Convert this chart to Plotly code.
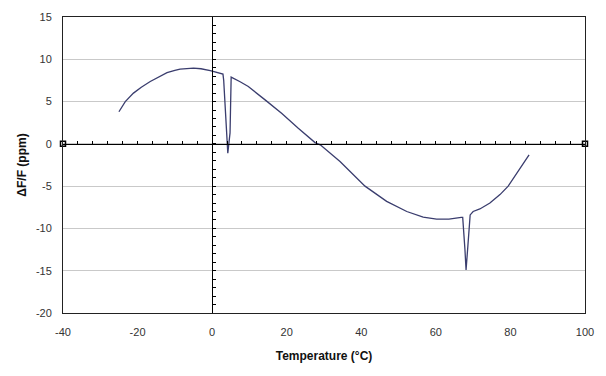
import plotly.graph_objects as go

# Data
temperature_c = [-25.0, -23.3, -21.1, -19.0, -16.6, -14.0, -12.1, -10.0, -8.6, -5.0, -3.0, -0.5,
                 1.7, 2.9, 3.1, 3.6, 3.9, 4.2, 4.8, 5.1, 7.5, 9.7, 14.2, 18.7, 23.1, 27.6,
                 29.0, 34.3, 41.0, 46.8, 52.2, 56.6, 60.2, 63.5, 66.8, 67.2, 67.8, 68.1,
                 68.6, 69.0, 69.2, 70.0, 71.8, 74.5, 77.2, 79.4, 82.6, 85.0]
delta_f_ppm = [3.8, 5.0, 6.0, 6.7, 7.37, 8.0, 8.43, 8.7, 8.83, 8.95, 8.88, 8.67,
               8.36, 8.25, 7.5, 3.5, 1.6, -1.1, 1.3, 7.9, 7.35, 6.78, 5.2, 3.6, 1.85, 0.15,
               -0.12, -2.09, -5.0, -6.8, -8.0, -8.67, -8.9, -8.9, -8.7, -8.7, -12.5, -14.9,
               -12.0, -9.8, -8.4, -8.0, -7.7, -7.0, -6.0, -5.0, -2.9, -1.3]

x_range = [-40, 100]
y_range = [-20, 15]
x_ticks = [-40, -20, 0, 20, 40, 60, 80, 100]
y_ticks = [-20, -15, -10, -5, 0, 5, 10, 15]

font_family = "Liberation Sans, Arial, sans-serif"

fig = go.Figure()

fig.add_trace(go.Scatter(
    x=temperature_c, y=delta_f_ppm, mode="lines",
    line=dict(color="#3a3d6e", width=1.3),
    showlegend=False, hoverinfo="skip",
))

# small square markers at the ends of the zero axis
fig.add_trace(go.Scatter(
    x=x_range, y=[0, 0], mode="markers",
    marker=dict(symbol="square-open", size=5, color="#000", line=dict(width=1.5, color="#000")),
    showlegend=False, hoverinfo="skip", cliponaxis=False,
))

# dummy trace for the crossing axes
fig.add_trace(go.Scatter(x=[None], y=[None], xaxis="x2", yaxis="y2", showlegend=False))

x0_frac = (0 - x_range[0]) / (x_range[1] - x_range[0])
y0_frac = (0 - y_range[0]) / (y_range[1] - y_range[0])

# the page body adds an 8px offset; compensate in size and margins
fig.update_layout(
    width=598, height=368,
    margin=dict(l=55, r=21, t=9, b=63, autoexpand=False),
    paper_bgcolor="white", plot_bgcolor="white",
    font=dict(family=font_family, size=11, color="#333"),
    xaxis=dict(
        range=x_range, tickvals=x_ticks, ticktext=[str(v) for v in x_ticks],
        showgrid=False, zeroline=False, automargin=False,
        showline=True, mirror=True, linecolor="#222", linewidth=1,
        ticks="outside", ticklen=9, tickcolor="rgba(0,0,0,0)",
        tickfont=dict(size=11, color="#333"),
        title=dict(text="<b>Temperature (°C)</b>", font=dict(size=12, color="#111"), standoff=14),
    ),
    yaxis=dict(
        range=y_range, tickvals=y_ticks, ticktext=[str(v) for v in y_ticks],
        showgrid=True, gridcolor="#c9c9c9", gridwidth=1, automargin=False,
        zeroline=False, showline=True, mirror=True, linecolor="#222", linewidth=1,
        ticks="outside", ticklen=8, tickcolor="rgba(0,0,0,0)",
        tickfont=dict(size=11, color="#333"),
        title=dict(text="<b>ΔF/F (ppm)</b>", font=dict(size=12, color="#111"), standoff=6),
    ),
    xaxis2=dict(
        overlaying="x", anchor="free", position=y0_frac, side="bottom", automargin=False,
        range=x_range, dtick=4, tick0=0, showticklabels=False, showgrid=False,
        zeroline=False, showline=True, linecolor="#000", linewidth=1.3,
        ticks="inside", ticklen=3, tickcolor="#000", tickwidth=1,
    ),
    yaxis2=dict(
        overlaying="y", anchor="free", position=x0_frac, side="left", automargin=False,
        range=y_range, dtick=1, tick0=0, showticklabels=False, showgrid=False,
        zeroline=False, showline=True, linecolor="#000", linewidth=1.3,
        ticks="inside", ticklen=3, tickcolor="#000", tickwidth=1,
    ),
)

fig.write_html("out.html")
